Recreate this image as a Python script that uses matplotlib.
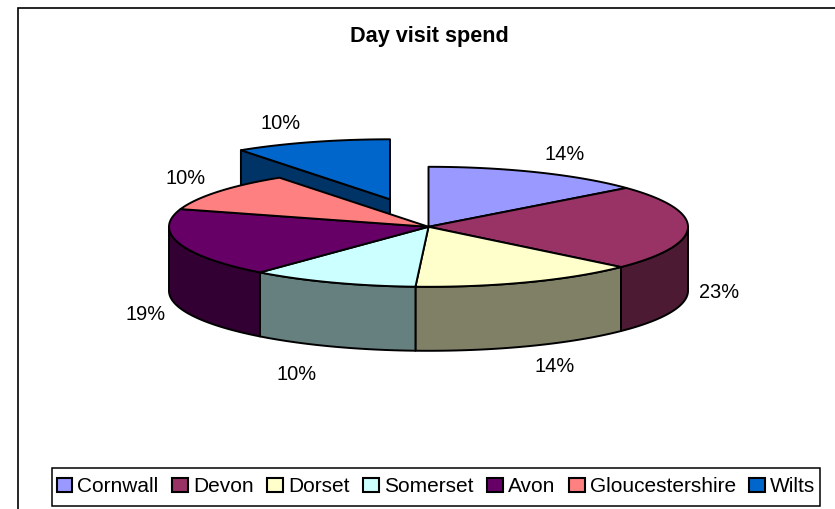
import numpy as np
import matplotlib
matplotlib.use("Agg")
import matplotlib.pyplot as plt
from matplotlib.patches import Polygon, Patch, Rectangle
from matplotlib.colors import to_rgb

categories = ["Cornwall", "Devon", "Dorset", "Somerset", "Avon", "Gloucestershire", "Wilts"]
values = [13.8, 22.9, 14.1, 10.45, 18.52, 10.49, 9.74]
colors = ["#9999FF", "#993366", "#FFFFCC", "#CCFFFF", "#660066", "#FF8080", "#0066CC"]
title = "Day visit spend"

exploded = "Wilts"
CX, CY, RX, RY, DEPTH = 428.5, 226.8, 259.5, 60.0, 64.0
EXPLODE = (-38.5, -27.5)
label_xy = [(565, 154), (719, 293), (555, 366), (281, 374), (146, 314), (186, 179), (281, 123)]
label_xy[3] = (297, 374)

plt.rcParams["font.family"] = ["Liberation Sans", "DejaVu Sans"]
fig = plt.figure(figsize=(8.35, 5.09), dpi=100)
ax = fig.add_axes([0, 0, 1, 1])
ax.set_xlim(0, 835)
ax.set_ylim(509, 0)
ax.axis("off")

# chart frame (clipped by the image on right and bottom)
ax.plot([17.5, 17.5, 835], [509, 7.5, 7.5], color="black", lw=1.2, solid_joinstyle="miter")

LW = 1.4
edges = np.concatenate([[0], np.cumsum(values)]) / np.sum(values) * 2 * np.pi


def rim(t, ox, oy, dz=0.0):
    return np.column_stack([CX + ox + RX * np.sin(t), CY + oy + dz - RY * np.cos(t)])


def shade(c):
    return tuple(0.5 * v for v in to_rgb(c))


def draw_slice(i):
    t0, t1 = edges[i], edges[i + 1]
    c = colors[i]
    ox, oy = EXPLODE if categories[i] == exploded else (0.0, 0.0)
    centre = np.array([CX + ox, CY + oy])
    kw = dict(edgecolor="black", lw=LW, joinstyle="round")
    # visible radial faces, only for a slice pulled out of the pie
    if categories[i] == exploded:
        for t, seen in ((t0, np.sin(t0) < 0), (t1, np.sin(t1) > 1e-6)):
            if seen:
                p = rim(np.array([t]), ox, oy)[0]
                ax.add_patch(Polygon([centre, p, p + [0, DEPTH], centre + [0, DEPTH]],
                                     facecolor=shade(c), **kw))
    # front wall
    a, b = max(t0, np.pi / 2), min(t1, 3 * np.pi / 2)
    if b > a:
        t = np.linspace(a, b, 80)
        ax.add_patch(Polygon(np.vstack([rim(t, ox, oy), rim(t[::-1], ox, oy, DEPTH)]),
                             facecolor=shade(c), **kw))
    # top
    t = np.linspace(t0, t1, 160)
    ax.add_patch(Polygon(np.vstack([centre, rim(t, ox, oy)]), facecolor=c, **kw))


order = sorted(range(len(values)), key=lambda i: categories[i] != exploded)
for i in order:
    draw_slice(i)

for v, (x, y) in zip(values, label_xy):
    ax.text(x, y, f"{v:.0f}%", ha="center", va="center", fontsize=14.4, color="black")

ax.text(429, 36.5, title, ha="center", va="center", fontsize=15.6, fontweight="bold", color="black")

# legend box and entries
ax.add_patch(Rectangle((52, 468), 768, 38, facecolor="white", edgecolor="black", lw=1.1, zorder=4))
handles = [Patch(facecolor=c, edgecolor="black", lw=1.5, label=n) for n, c in zip(categories, colors)]
leg = ax.legend(handles=handles, loc="center", bbox_to_anchor=(436, 487),
                bbox_transform=ax.transData, ncol=7, fontsize=15,
                handlelength=0.76, handleheight=0.62, handletextpad=0.24,
                columnspacing=0.65, borderpad=0, borderaxespad=0, frameon=False)
leg.set_zorder(5)

fig.savefig("out.png", dpi=100)
